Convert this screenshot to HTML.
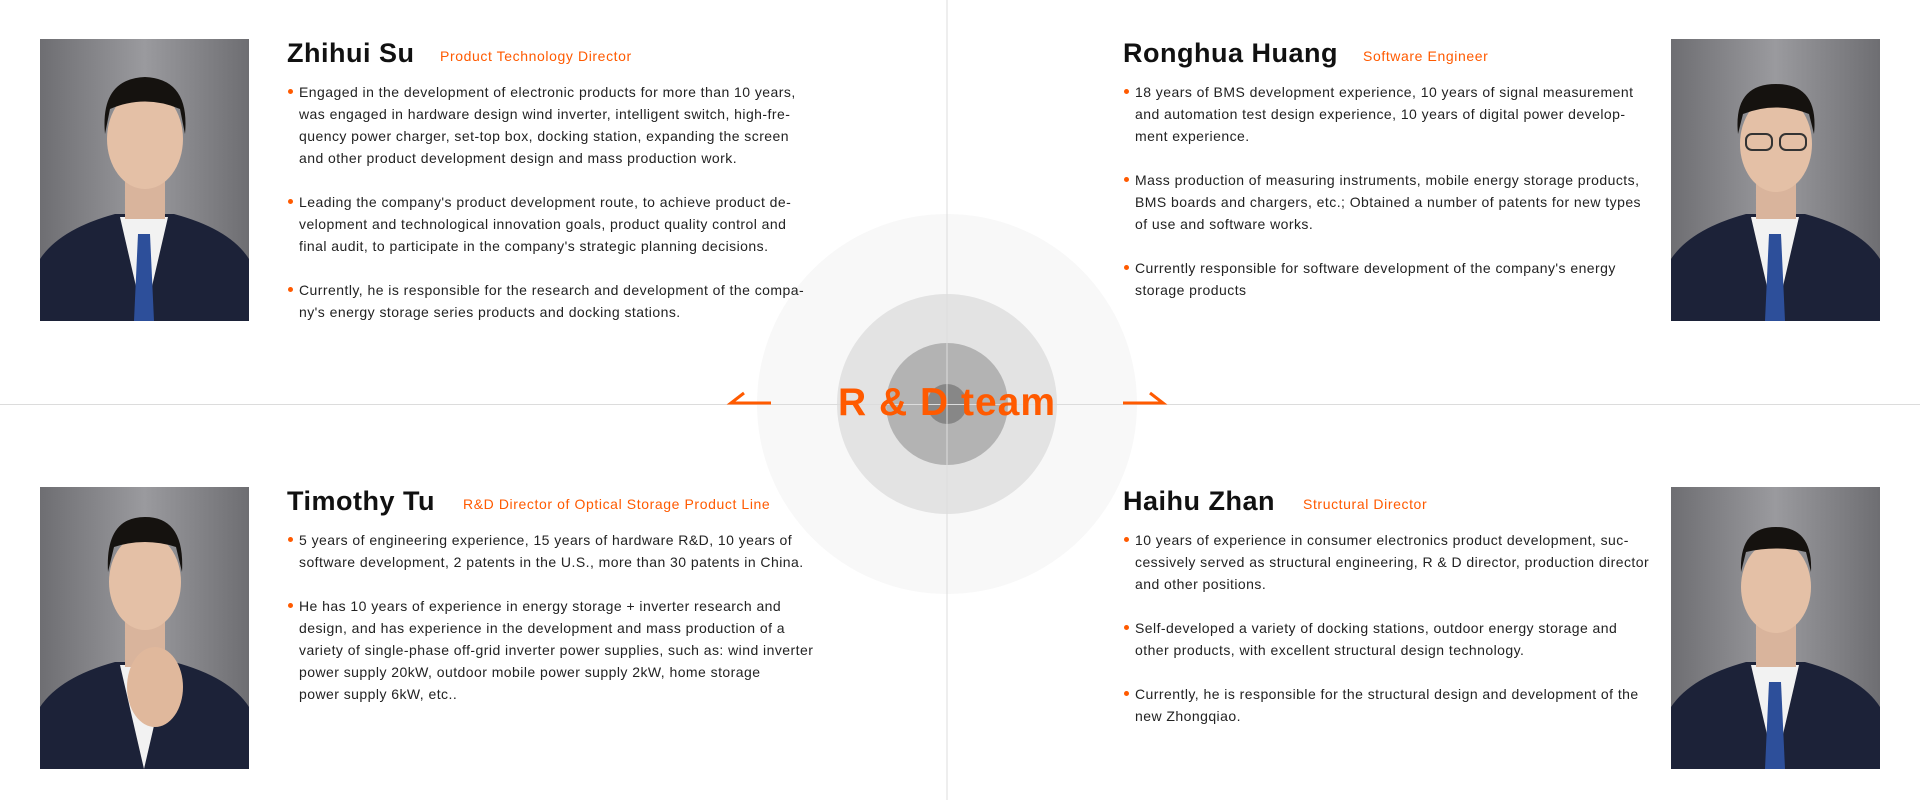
<!DOCTYPE html>
<html><head><meta charset="utf-8"><style>
*{margin:0;padding:0;box-sizing:border-box}
body{width:1920px;height:800px;background:#fff;position:relative;overflow:hidden;font-family:"Liberation Sans",sans-serif;color:#222}
.abs{position:absolute}
.name{font-size:27px;font-weight:bold;line-height:30px;color:#111;white-space:nowrap;letter-spacing:0.5px}
.title{font-size:14px;color:#ff5a00;line-height:30px;white-space:nowrap;letter-spacing:0.6px}
.txt{font-size:14px;line-height:22px;white-space:nowrap;color:#222;letter-spacing:0.45px}
.txt p{position:relative;padding-left:11px;margin-bottom:22px}
.txt p:before{content:"";position:absolute;left:0;top:8px;width:5px;height:5px;border-radius:50%;background:#ff5a00}
.photo{position:absolute;width:209px;height:282px;overflow:hidden}
</style></head><body>
<svg class="abs" style="left:0;top:0" width="1920" height="800">
<circle cx="947" cy="404" r="190" fill="#f8f8f8"/>
<circle cx="947" cy="404" r="110" fill="#e3e3e3"/>
<circle cx="947" cy="404" r="61" fill="#b3b3b3"/>
<circle cx="947" cy="404" r="20" fill="#878787"/>
<line x1="947" y1="0" x2="947" y2="800" stroke="#dcdcdc" stroke-width="1"/>
<line x1="0" y1="404.5" x2="1920" y2="404.5" stroke="#dcdcdc" stroke-width="1"/>
<polyline points="744,393 731,403 771,403" fill="none" stroke="#ff5a00" stroke-width="3"/>
<polyline points="1123,403 1163,403 1150,393" fill="none" stroke="#ff5a00" stroke-width="3"/>
<text x="947" y="415" text-anchor="middle" font-family="Liberation Sans,sans-serif" font-weight="bold" font-size="39" letter-spacing="1" fill="#ff5a00">R &amp; D team</text>
</svg>

<svg class="photo" style="left:40px;top:39px" viewBox="0 0 209 282"><defs><linearGradient id="g1" x1="0" x2="1"><stop offset="0" stop-color="#6e6e72"/><stop offset="0.5" stop-color="#9a9a9e"/><stop offset="1" stop-color="#6e6e72"/></linearGradient></defs><rect width="209" height="282" fill="url(#g1)"/><path d="M0 282 L0 220 Q20 190 75 175 L134 175 Q190 190 209 220 L209 282Z" fill="#1c2238"/><path d="M80 178 L104 282 L128 178Z" fill="#f2f2f2"/><path d="M98 195 L110 195 L114 282 L94 282Z" fill="#2d4f9a"/><rect x="85" y="130" width="40" height="50" fill="#d9b49c"/><ellipse cx="105" cy="100" rx="38" ry="50" fill="#e4c0a6"/><path d="M65 95 Q60 40 105 38 Q150 40 145 95 L140 70 Q105 55 70 70Z" fill="#15120f"/></svg>
<svg class="photo" style="left:1671px;top:39px" viewBox="0 0 209 282"><rect width="209" height="282" fill="url(#g1)"/><path d="M0 282 L0 220 Q20 190 75 175 L134 175 Q190 190 209 220 L209 282Z" fill="#1c2238"/><path d="M80 178 L104 282 L128 178Z" fill="#f2f2f2"/><path d="M98 195 L110 195 L114 282 L94 282Z" fill="#2d4f9a"/><rect x="85" y="130" width="40" height="50" fill="#d9b49c"/><ellipse cx="105" cy="105" rx="36" ry="48" fill="#e4c0a6"/><path d="M67 95 Q62 45 105 45 Q148 45 143 95 L138 75 Q105 62 72 75Z" fill="#15120f"/><rect x="75" y="95" width="26" height="16" rx="6" fill="none" stroke="#333" stroke-width="2"/><rect x="109" y="95" width="26" height="16" rx="6" fill="none" stroke="#333" stroke-width="2"/></svg>
<svg class="photo" style="left:40px;top:487px" viewBox="0 0 209 282"><rect width="209" height="282" fill="url(#g1)"/><path d="M0 282 L0 220 Q20 190 75 175 L134 175 Q190 190 209 220 L209 282Z" fill="#1c2238"/><path d="M80 178 L104 282 L128 178Z" fill="#f2f2f2"/><rect x="85" y="130" width="40" height="50" fill="#d9b49c"/><ellipse cx="105" cy="95" rx="36" ry="48" fill="#e4c0a6"/><path d="M68 85 Q65 30 105 30 Q145 30 142 85 L136 60 Q105 50 74 60Z" fill="#15120f"/><ellipse cx="115" cy="200" rx="28" ry="40" fill="#e0b89c"/></svg>
<svg class="photo" style="left:1671px;top:487px" viewBox="0 0 209 282"><rect width="209" height="282" fill="url(#g1)"/><path d="M0 282 L0 220 Q20 190 75 175 L134 175 Q190 190 209 220 L209 282Z" fill="#1c2238"/><path d="M80 178 L104 282 L128 178Z" fill="#f2f2f2"/><path d="M98 195 L110 195 L114 282 L94 282Z" fill="#2d4f9a"/><rect x="85" y="130" width="40" height="50" fill="#d9b49c"/><ellipse cx="105" cy="100" rx="35" ry="46" fill="#e4c0a6"/><path d="M70 85 Q68 40 105 40 Q142 40 140 85 L135 65 Q105 58 75 65Z" fill="#15120f"/></svg>

<div class="abs name" style="left:287px;top:38px">Zhihui Su</div>
<div class="abs title" style="left:440px;top:41px">Product Technology Director</div>
<div class="abs txt" style="left:288px;top:81px">
<p>Engaged in the development of electronic products for more than 10 years,<br>was engaged in hardware design wind inverter, intelligent switch, high-fre-<br>quency power charger, set-top box, docking station, expanding the screen<br>and other product development design and mass production work.</p>
<p>Leading the company's product development route, to achieve product de-<br>velopment and technological innovation goals, product quality control and<br>final audit, to participate in the company's strategic planning decisions.</p>
<p>Currently, he is responsible for the research and development of the compa-<br>ny's energy storage series products and docking stations.</p>
</div>

<div class="abs name" style="left:1123px;top:38px">Ronghua Huang</div>
<div class="abs title" style="left:1363px;top:41px">Software Engineer</div>
<div class="abs txt" style="left:1124px;top:81px">
<p>18 years of BMS development experience, 10 years of signal measurement<br>and automation test design experience, 10 years of digital power develop-<br>ment experience.</p>
<p>Mass production of measuring instruments, mobile energy storage products,<br>BMS boards and chargers, etc.; Obtained a number of patents for new types<br>of use and software works.</p>
<p>Currently responsible for software development of the company's energy<br>storage products</p>
</div>

<div class="abs name" style="left:287px;top:486px">Timothy Tu</div>
<div class="abs title" style="left:463px;top:489px">R&amp;D Director of Optical Storage Product Line</div>
<div class="abs txt" style="left:288px;top:529px">
<p>5 years of engineering experience, 15 years of hardware R&amp;D, 10 years of<br>software development, 2 patents in the U.S., more than 30 patents in China.</p>
<p>He has 10 years of experience in energy storage + inverter research and<br>design, and has experience in the development and mass production of a<br>variety of single-phase off-grid inverter power supplies, such as: wind inverter<br>power supply 20kW, outdoor mobile power supply 2kW, home storage<br>power supply 6kW, etc..</p>
</div>

<div class="abs name" style="left:1123px;top:486px">Haihu Zhan</div>
<div class="abs title" style="left:1303px;top:489px">Structural Director</div>
<div class="abs txt" style="left:1124px;top:529px">
<p>10 years of experience in consumer electronics product development, suc-<br>cessively served as structural engineering, R &amp; D director, production director<br>and other positions.</p>
<p>Self-developed a variety of docking stations, outdoor energy storage and<br>other products, with excellent structural design technology.</p>
<p>Currently, he is responsible for the structural design and development of the<br>new Zhongqiao.</p>
</div>
</body></html>
